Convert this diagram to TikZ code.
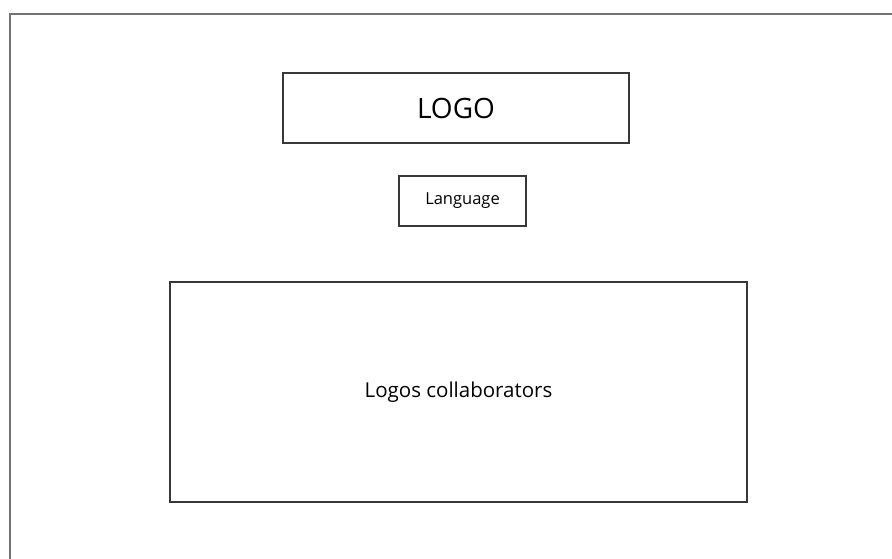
\documentclass[tikz,border=0pt]{standalone}
\usepackage{fontspec}
\setmainfont{Open Sans}
\usetikzlibrary{positioning}

\begin{document}
\begin{tikzpicture}[
     x=1pt, y=-1pt,
     % define styles
     frame/.style={
         draw=black!55,
         line width=2pt
     },
     block/.style={
         draw=black!78,
         line width=1.3pt,
         fill=white,
         inner sep=0pt,
         text=black
     }
]
\useasboundingbox (0,0) rectangle (892,558);

% outer page frame
\coordinate (fbl) at (10,559);
\coordinate (ftl) at (10,14);
\coordinate (ftr) at (893,14);
\draw[frame] (fbl) -- (ftl) -- (ftr);

% header logo
\node[block, minimum width=346pt, minimum height=70pt,
      font=\fontsize{28}{32}\selectfont] (logo) at (456,108) {LOGO};

% language selector
\node[block, minimum width=127pt, minimum height=50pt,
      font=\fontsize{16.5}{20}\selectfont] (lang) at (462.5,201) {Language};

% collaborators area
\node[block, minimum width=577pt, minimum height=220pt,
      font=\fontsize{20.5}{24}\selectfont] (collab) at (458.5,392) {Logos collaborators};
\end{tikzpicture}
\end{document}
